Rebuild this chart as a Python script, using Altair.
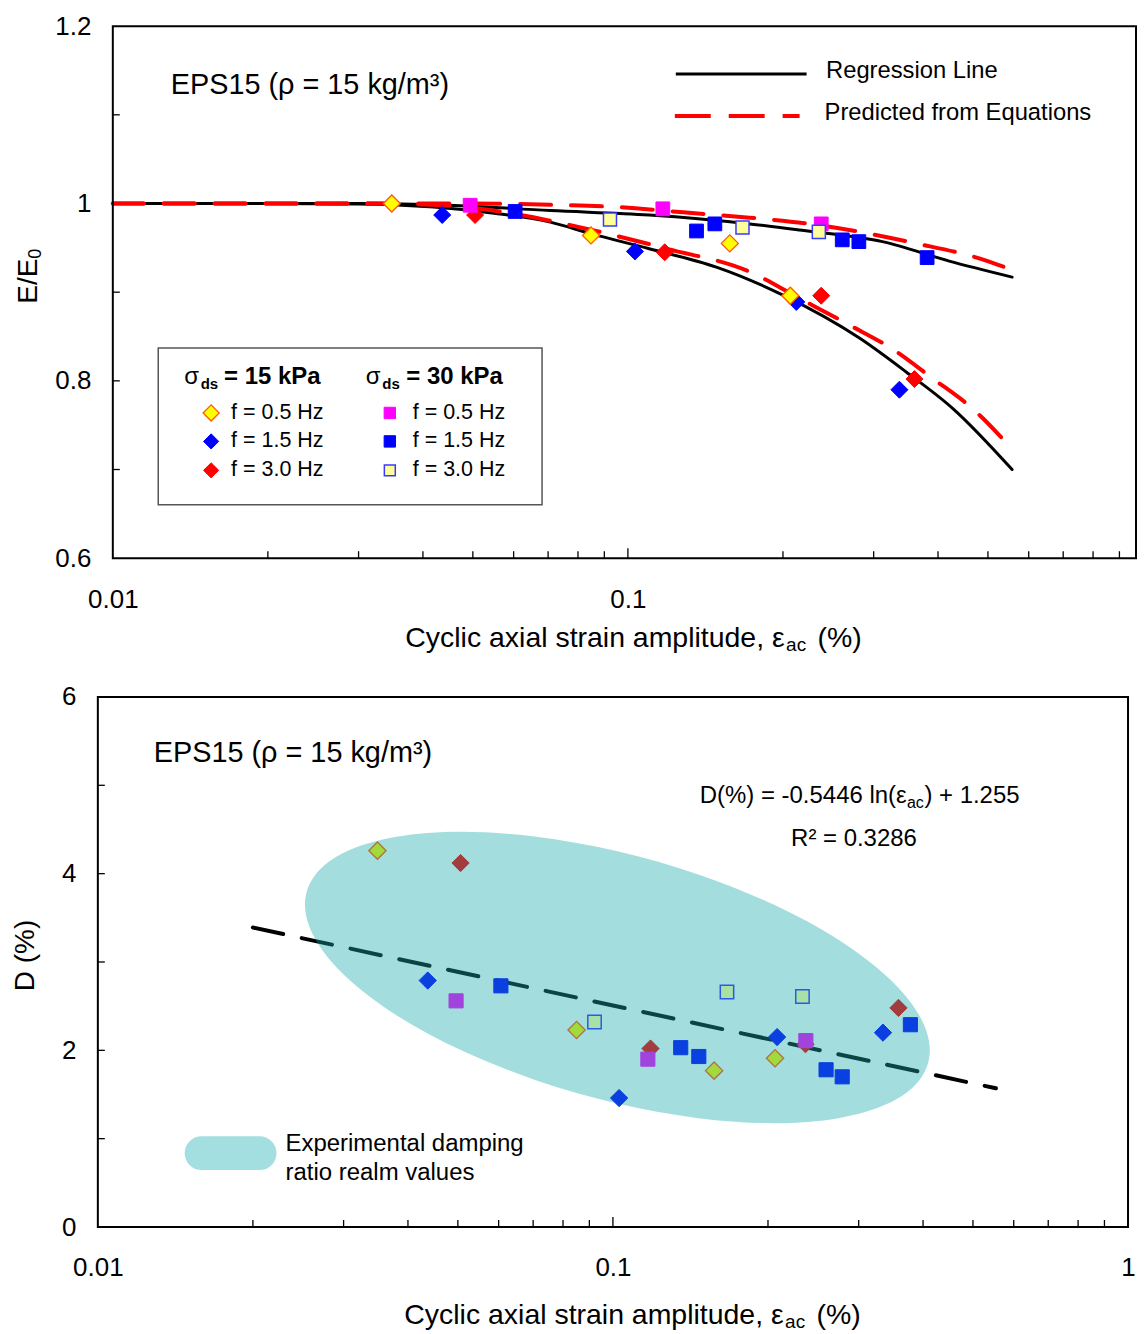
import altair as alt
import pandas as pd

FONT = "Liberation Sans"

# ================= TOP PANEL : E/E0 =================
# sigma_ds = 15 kPa (diamonds)
t15_f05_x = [0.0348, 0.0848, 0.1577, 0.2067]
t15_f05_y = [1.000, 0.964, 0.955, 0.896]
t15_f15_x = [0.0436, 0.1032, 0.2123, 0.3366]
t15_f15_y = [0.987, 0.946, 0.889, 0.790]
t15_f30_x = [0.0505, 0.1179, 0.2373, 0.3600]
t15_f30_y = [0.987, 0.945, 0.896, 0.802]
# sigma_ds = 30 kPa (squares)
t30_f05_x = [0.0494, 0.1169, 0.2373]
t30_f05_y = [0.998, 0.994, 0.977]
t30_f15_x = [0.0604, 0.1359, 0.1475, 0.2607, 0.2808, 0.3810]
t30_f15_y = [0.991, 0.969, 0.977, 0.959, 0.957, 0.939]
t30_f30_x = [0.0923, 0.1669, 0.2348]
t30_f30_y = [0.982, 0.973, 0.968]

# regression lines (black) and predicted curves (red dashed)
reg15_x = [0.01, 0.02, 0.03, 0.042, 0.055, 0.0707, 0.0847, 0.110, 0.149, 0.1995, 0.282, 0.347, 0.427, 0.557]
reg15_y = [1.0, 1.0, 0.9995, 0.996, 0.989, 0.979, 0.966, 0.949, 0.928, 0.897, 0.848, 0.810, 0.769, 0.700]
reg30_x = [0.01, 0.03, 0.045, 0.0707, 0.110, 0.1723, 0.2154, 0.312, 0.4207, 0.557]
reg30_y = [1.0, 1.0, 0.998, 0.992, 0.987, 0.977, 0.970, 0.957, 0.935, 0.917]
pred15_x = [0.01, 0.03, 0.04, 0.05, 0.0707, 0.0882, 0.119, 0.1723, 0.2154, 0.269, 0.326, 0.390, 0.466, 0.557]
pred15_y = [1.0, 1.0, 0.999, 0.995, 0.9805, 0.968, 0.949, 0.923, 0.893, 0.863, 0.836, 0.803, 0.769, 0.723]
pred30_x = [0.01, 0.03, 0.05, 0.0707, 0.0952, 0.128, 0.1723, 0.2324, 0.363, 0.4877, 0.557]
pred30_y = [1.0, 1.0, 1.0, 0.9985, 0.996, 0.990, 0.984, 0.976, 0.955, 0.937, 0.925]

# ================= BOTTOM PANEL : D (%) =================
b15_f05_x = [0.0349, 0.0850, 0.1572, 0.2064]
b15_f05_y = [4.26, 2.23, 1.77, 1.91]
b15_f15_x = [0.0437, 0.1028, 0.2083, 0.3344]
b15_f15_y = [2.79, 1.46, 2.15, 2.20]
b15_f30_x = [0.0506, 0.1183, 0.2365, 0.3584]
b15_f30_y = [4.12, 2.02, 2.07, 2.48]
b30_f05_x = [0.0496, 0.1169, 0.2369]
b30_f05_y = [2.56, 1.90, 2.11]
b30_f15_x = [0.0606, 0.1354, 0.1468, 0.2593, 0.2787, 0.3780]
b30_f15_y = [2.73, 2.03, 1.93, 1.78, 1.70, 2.29]
b30_f30_x = [0.0921, 0.1665, 0.2333]
b30_f30_y = [2.32, 2.66, 2.61]

breg_x = [0.02, 0.554]
breg_y = [3.39, 1.57]

# outline of the "experimental damping ratio realm" region
ell_x = [0.4123, 0.3932, 0.3420, 0.2739, 0.2051, 0.1465, 0.1020, 0.07107, 0.05077, 0.03800,
         0.03043, 0.02647, 0.02524, 0.02647, 0.03043, 0.03800, 0.05077, 0.07107, 0.1020, 0.1465,
         0.2051, 0.2739, 0.3420, 0.3932]
ell_y = [2.000, 1.659, 1.397, 1.232, 1.175, 1.232, 1.397, 1.659, 2.000, 2.398,
         2.825, 3.252, 3.650, 3.991, 4.253, 4.418, 4.475, 4.418, 4.253, 3.991,
         3.650, 3.252, 2.825, 2.398]

# axis ticks / labels
x_labels_top = [0.01, 0.1]
x_labels_bot = [0.01, 0.1, 1]
x_minor = [0.02, 0.03, 0.04, 0.05, 0.06, 0.07, 0.08, 0.09, 0.2, 0.3, 0.4, 0.5, 0.6, 0.7, 0.8, 0.9]
x_major = [0.1]
y_labels_top = [0.6, 0.8, 1.0, 1.2]
y_ticks_top = [0.7, 0.8, 0.9, 1.0, 1.1]
y_labels_bot = [0, 2, 4, 6]
y_ticks_bot = [1, 2, 3, 4, 5]

# top plot: area starts 15 px left of its frame so both panels share one left edge
OX = 15
W1, H1 = 1040, 533
W2, H2 = 1032, 531
ONE = pd.DataFrame({"k": [0]})


def axis(vals, pad):
    return alt.Axis(values=vals, format="~g", ticks=False, tickSize=0, domain=False, grid=False,
                    labelFontSize=26, labelFont=FONT, labelColor="black", labelPadding=pad,
                    labelFlush=False, labelOverlap=False, title=None)


X1 = alt.X("x:Q", scale=alt.Scale(type="log", domain=[0.01, 1], range=[OX, OX + 1032], nice=False),
           axis=axis(x_labels_top, 28))
Y1 = alt.Y("y:Q", scale=alt.Scale(domain=[0.6, 1.2], nice=False, zero=False), axis=axis(y_labels_top, 22 - OX))
X2 = alt.X("x:Q", scale=alt.Scale(type="log", domain=[0.01, 1], nice=False), axis=axis(x_labels_bot, 28))
Y2 = alt.Y("y:Q", scale=alt.Scale(domain=[0, 6], nice=False, zero=False), axis=axis(y_labels_bot, 22))


def curve(xs, ys, X, Y, color, width, dash=None):
    kw = dict(color=color, strokeWidth=width, interpolate="monotone", strokeCap="round")
    if dash:
        kw["strokeDash"] = dash
    return alt.Chart(pd.DataFrame({"x": xs, "y": ys})).mark_line(**kw).encode(x=X, y=Y)


def pts(xs, ys, X, Y, shape, fill, stroke, size, sw=1):
    return alt.Chart(pd.DataFrame({"x": xs, "y": ys})).mark_point(
        shape=shape, filled=True, fill=fill, stroke=stroke, strokeWidth=sw, size=size, opacity=1
    ).encode(x=X, y=Y)


def txt(s, x, y, size, weight="normal", align="left", angle=None):
    kw = dict(text=s, fontSize=size, font=FONT, align=align, baseline="middle",
              color="black", fontWeight=weight)
    if angle is not None:
        kw["angle"] = angle
    return alt.Chart(ONE).mark_text(**kw).encode(x=alt.value(x), y=alt.value(y))


def sym(x, y, shape, fill, stroke, size, sw=1):
    return alt.Chart(ONE).mark_point(shape=shape, filled=True, fill=fill, stroke=stroke,
                                     strokeWidth=sw, size=size, opacity=1).encode(
        x=alt.value(x), y=alt.value(y))


def seg(x1, x2, y1, y2, color, width, dash=None):
    kw = dict(color=color, strokeWidth=width)
    if dash:
        kw["strokeDash"] = dash
    return alt.Chart(ONE).mark_rule(**kw).encode(
        x=alt.value(x1), x2=alt.value(x2), y=alt.value(y1), y2=alt.value(y2))


def frame(x1, x2, h):
    return alt.Chart(ONE).mark_rect(fill="white", fillOpacity=0, stroke="black", strokeWidth=2).encode(
        x=alt.value(x1), x2=alt.value(x2), y=alt.value(0), y2=alt.value(h))


def xticks(vals, X, H, L):
    return alt.Chart(pd.DataFrame({"x": vals})).mark_rule(color="black", strokeWidth=1.3).encode(
        x=X, y=alt.value(H), y2=alt.value(H - L))


def yticks(vals, Y, x0, L):
    return alt.Chart(pd.DataFrame({"y": vals})).mark_rule(color="black", strokeWidth=1.3).encode(
        y=Y, x=alt.value(x0), x2=alt.value(x0 + L))


# ---------------- top chart ----------------
YEL, ORG, BLU, RED, MAG, LYEL, LBLU = "#ffff00", "#ff5a00", "#0000ff", "#ff0000", "#ff00ff", "#ffff99", "#3a3aff"
top_layers = [
    seg(-89, -88, -16, -15, "white", 1),
    seg(-89, -88, H1 + 105, H1 + 106, "white", 1),
    xticks(x_minor, X1, H1, 7),
    xticks(x_major, X1, H1, 10),
    yticks(y_ticks_top, Y1, OX, 7),
    curve(reg30_x, reg30_y, X1, Y1, "black", 3),
    curve(reg15_x, reg15_y, X1, Y1, "black", 3),
    curve(pred30_x, pred30_y, X1, Y1, RED, 4, [31, 20]),
    curve(pred15_x, pred15_y, X1, Y1, RED, 4, [31, 20]),
    pts(t15_f15_x, t15_f15_y, X1, Y1, "diamond", BLU, BLU, 290),
    pts(t15_f30_x, t15_f30_y, X1, Y1, "diamond", RED, RED, 290),
    pts(t15_f05_x, t15_f05_y, X1, Y1, "diamond", YEL, ORG, 290, 1.3),
    pts(t30_f05_x, t30_f05_y, X1, Y1, "square", MAG, MAG, 190),
    pts(t30_f15_x, t30_f15_y, X1, Y1, "square", BLU, BLU, 190),
    pts(t30_f30_x, t30_f30_y, X1, Y1, "square", LYEL, LBLU, 170, 1.5),
    txt("EPS15 (ρ = 15 kg/m³)", 73, 59, 28.9),
    # line legend
    seg(579, 710, 48, 48, "black", 3),
    txt("Regression Line", 729.5, 44.5, 23.8),
    seg(578, 703, 90, 90, RED, 4, [36, 18]),
    txt("Predicted from Equations", 728, 87, 23.8),
    # symbol legend box
    alt.Chart(ONE).mark_rect(fill="white", stroke="#555555", strokeWidth=1.5).encode(
        x=alt.value(60.5), x2=alt.value(445), y=alt.value(322.5), y2=alt.value(479.5)),
    txt("σ", 86.5, 351, 24),
    txt("ds", 103, 358, 15, "bold"),
    txt("= 15 kPa", 126.5, 351, 24, "bold"),
    txt("σ", 268.5, 351, 24),
    txt("ds", 285, 358, 15, "bold"),
    txt("= 30 kPa", 309, 351, 24, "bold"),
    sym(113.5, 387.5, "diamond", YEL, ORG, 260, 1.3),
    sym(113.5, 416, "diamond", BLU, BLU, 230),
    sym(113.5, 445, "diamond", RED, RED, 230),
    sym(292.5, 387.5, "square", MAG, MAG, 130),
    sym(292.5, 416, "square", BLU, BLU, 130),
    sym(292.5, 445, "square", LYEL, LBLU, 120, 1.5),
    txt("f = 0.5 Hz", 133.5, 387.5, 21.5),
    txt("f = 1.5 Hz", 133.5, 416, 21.5),
    txt("f = 3.0 Hz", 133.5, 445, 21.5),
    txt("f = 0.5 Hz", 315.5, 387.5, 21.5),
    txt("f = 1.5 Hz", 315.5, 416, 21.5),
    txt("f = 3.0 Hz", 315.5, 445, 21.5),
    # axis titles
    txt("E/E", -69, 278, 28, angle=270),
    txt("0", -62, 233, 18, angle=270),
    txt("Cyclic axial strain amplitude, ε", 308, 613, 28.5),
    txt("ac", 689.5, 620, 19),
    txt("(%)", 721, 613, 28.5),
    frame(OX, W1, H1),
]
top = alt.layer(*top_layers).properties(width=W1, height=H1)

# ---------------- bottom chart ----------------
YG, YGS, BB, BR, PU, LG, LGS = "#a3d93a", "#a8744a", "#0a3fe0", "#a33c3c", "#a144dd", "#a8e0a6", "#2a5be8"
ell_df = pd.DataFrame({"x": ell_x, "y": ell_y, "i": list(range(len(ell_x)))})
bot_layers = [
    seg(-89, -88, -20, -19, "white", 1),
    xticks(x_minor, X2, H2, 7),
    xticks(x_major, X2, H2, 10),
    yticks(y_ticks_bot, Y2, 0, 7),
    curve(breg_x, breg_y, X2, Y2, "black", 4, [31, 19]),
    alt.Chart(ell_df).mark_line(interpolate="cardinal-closed", fill="#19aaac", fillOpacity=0.4,
                                strokeOpacity=0).encode(x=X2, y=Y2, order="i:Q"),
    pts(b15_f05_x, b15_f05_y, X2, Y2, "diamond", YG, YGS, 300, 1.3),
    pts(b15_f15_x, b15_f15_y, X2, Y2, "diamond", BB, BB, 300),
    pts(b15_f30_x, b15_f30_y, X2, Y2, "diamond", BR, BR, 300),
    pts(b30_f05_x, b30_f05_y, X2, Y2, "square", PU, PU, 200),
    pts(b30_f15_x, b30_f15_y, X2, Y2, "square", BB, BB, 200),
    pts(b30_f30_x, b30_f30_y, X2, Y2, "square", LG, LGS, 180, 1.5),
    txt("EPS15 (ρ = 15 kg/m³)", 56, 56, 28.9),
    txt("D(%) = -0.5446 ln(ε", 603, 99.5, 24),
    txt("ac", 810.5, 106, 16),
    txt(") + 1.255", 828, 99.5, 24),
    txt("R² = 0.3286", 694.5, 142.5, 24),
    alt.Chart(ONE).mark_rect(color="#a3dfe0", cornerRadius=17).encode(
        x=alt.value(87), x2=alt.value(179), y=alt.value(440), y2=alt.value(474)),
    txt("Experimental damping", 188, 448, 24),
    txt("ratio realm values", 188, 477, 24),
    txt("D (%)", -72, 259, 28, align="center", angle=270),
    txt("Cyclic axial strain amplitude, ε", 307, 619, 28.5),
    txt("ac", 688.5, 626, 19),
    txt("(%)", 720, 619, 28.5),
    frame(0, W2, H2),
]
bottom = alt.layer(*bot_layers).properties(width=W2, height=H2)

chart = alt.vconcat(top, bottom, spacing=11, padding=0).configure_view(stroke="transparent")

chart.save("out.html", embed_options={"renderer": "svg", "actions": False})
